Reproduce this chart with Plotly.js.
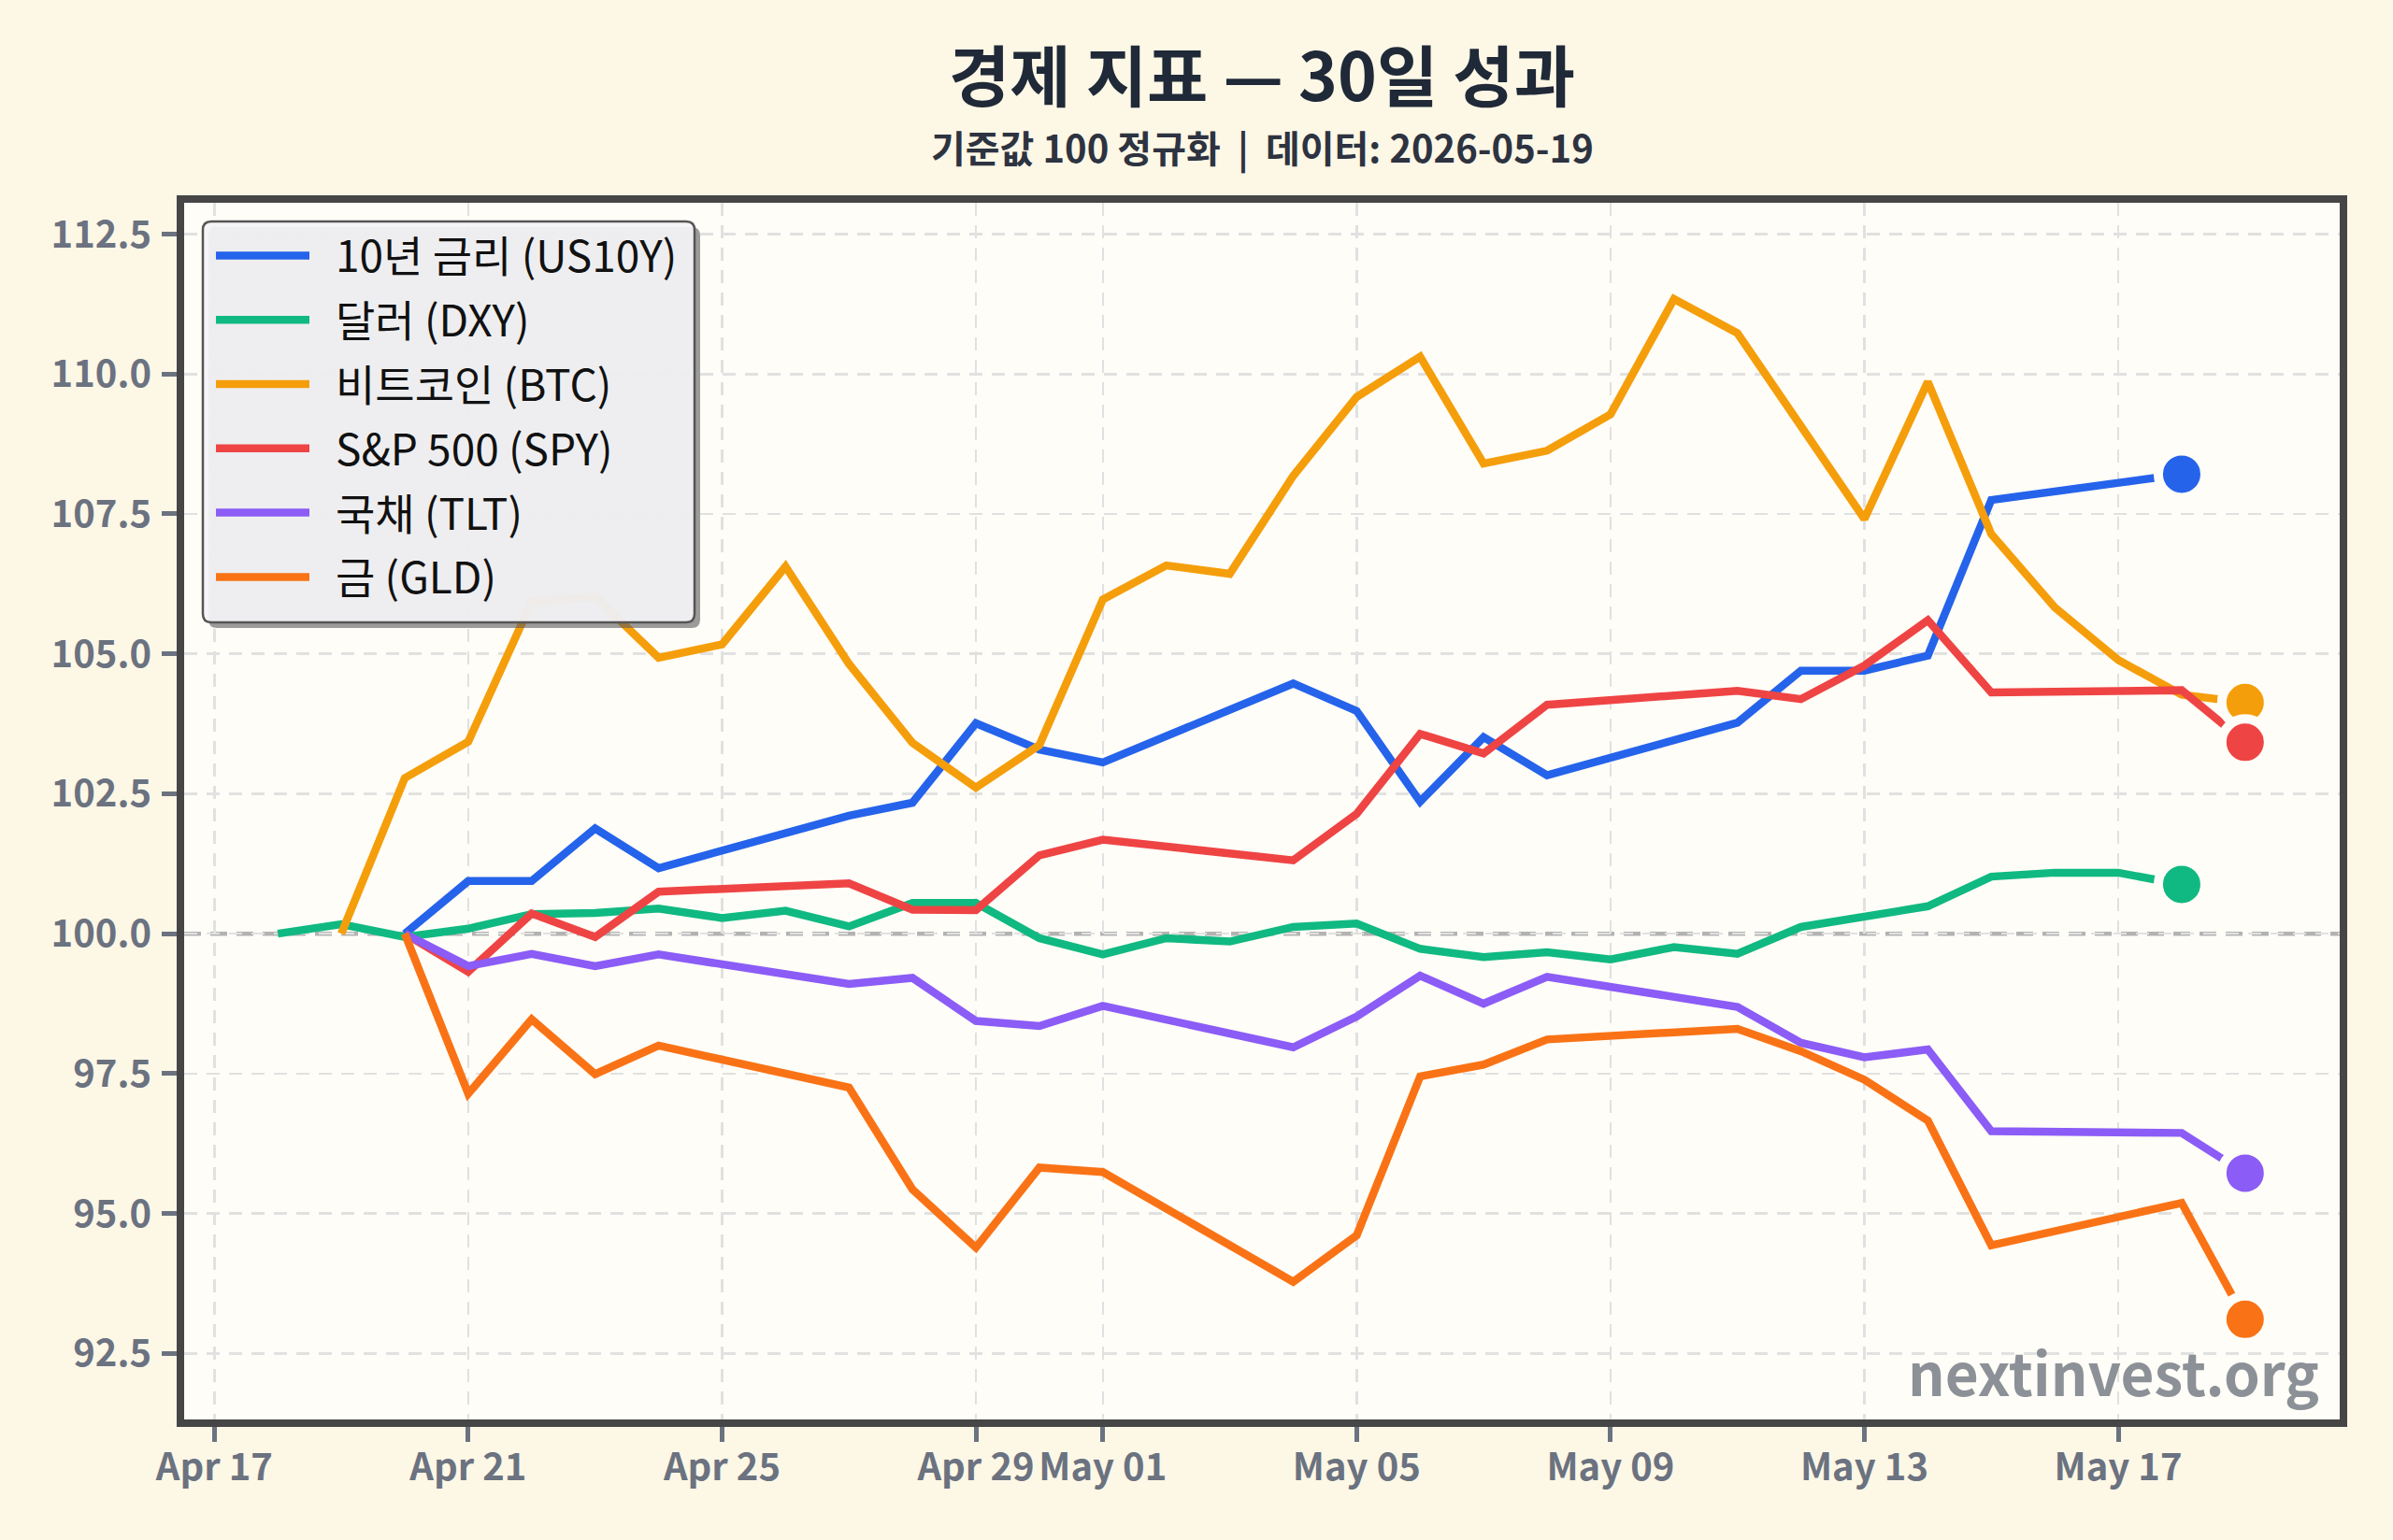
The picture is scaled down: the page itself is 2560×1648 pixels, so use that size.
<!DOCTYPE html>
<html>
<head>
<meta charset="utf-8">
<script src="https://cdn.plot.ly/plotly-3.0.1.min.js"></script>
<style>
  html, body { margin: 0; padding: 0; background: #fdf7e6; }
  #chart { width: 2560px; height: 1648px; }
</style>
</head>
<body>
<div id="chart"></div>
<script>
// ---------------- DATA ----------------
const seriesNames = ['10년 금리 (US10Y)', '달러 (DXY)', '비트코인 (BTC)', 'S&P 500 (SPY)', '국채 (TLT)', '금 (GLD)'];

const us10yDates = ['2026-04-20','2026-04-21','2026-04-22','2026-04-23','2026-04-24','2026-04-27','2026-04-28','2026-04-29','2026-04-30','2026-05-01','2026-05-04','2026-05-05','2026-05-06','2026-05-07','2026-05-08','2026-05-11','2026-05-12','2026-05-13','2026-05-14','2026-05-15','2026-05-18'];
const us10yValues = [100.00,100.94,100.94,101.88,101.17,102.11,102.34,103.76,103.29,103.06,104.47,103.98,102.36,103.51,102.83,103.77,104.70,104.70,104.97,107.75,108.21];

const dxyDates = ['2026-04-18','2026-04-19','2026-04-20','2026-04-21','2026-04-22','2026-04-23','2026-04-24','2026-04-25','2026-04-26','2026-04-27','2026-04-28','2026-04-29','2026-04-30','2026-05-01','2026-05-02','2026-05-03','2026-05-04','2026-05-05','2026-05-06','2026-05-07','2026-05-08','2026-05-09','2026-05-10','2026-05-11','2026-05-12','2026-05-13','2026-05-14','2026-05-15','2026-05-16','2026-05-17','2026-05-18'];
const dxyValues = [100.00,100.17,99.94,100.09,100.35,100.37,100.45,100.28,100.41,100.13,100.55,100.55,99.92,99.63,99.92,99.86,100.12,100.18,99.73,99.58,99.67,99.54,99.76,99.64,100.12,100.31,100.49,101.02,101.09,101.09,100.88];

const btcDates = ['2026-04-19','2026-04-20','2026-04-21','2026-04-22','2026-04-23','2026-04-24','2026-04-25','2026-04-26','2026-04-27','2026-04-28','2026-04-29','2026-04-30','2026-05-01','2026-05-02','2026-05-03','2026-05-04','2026-05-05','2026-05-06','2026-05-07','2026-05-08','2026-05-09','2026-05-10','2026-05-11','2026-05-12','2026-05-13','2026-05-14','2026-05-15','2026-05-16','2026-05-17','2026-05-18','2026-05-19'];
const btcValues = [100.00,102.78,103.43,105.93,106.02,104.93,105.17,106.56,104.82,103.41,102.61,103.37,105.97,106.58,106.43,108.18,109.59,110.31,108.40,108.63,109.28,111.34,110.73,109.07,107.41,109.86,107.14,105.83,104.89,104.27,104.13];

const stockDates = ['2026-04-20','2026-04-21','2026-04-22','2026-04-23','2026-04-24','2026-04-27','2026-04-28','2026-04-29','2026-04-30','2026-05-01','2026-05-04','2026-05-05','2026-05-06','2026-05-07','2026-05-08','2026-05-11','2026-05-12','2026-05-13','2026-05-14','2026-05-15','2026-05-18','2026-05-19'];
const spyValues = [100.00,99.32,100.36,99.94,100.75,100.90,100.43,100.42,101.40,101.68,101.31,102.14,103.57,103.22,104.09,104.34,104.19,104.79,105.60,104.31,104.35,103.42];
const tltValues = [100.00,99.42,99.64,99.42,99.63,99.10,99.21,98.44,98.35,98.71,97.97,98.52,99.25,98.75,99.23,98.69,98.05,97.79,97.93,96.47,96.44,95.72];
const gldValues = [100.00,97.14,98.47,97.49,98.00,97.25,95.43,94.39,95.82,95.74,93.78,94.61,97.45,97.66,98.11,98.30,97.90,97.39,96.66,94.43,95.19,93.11];

const xTickVals = ['2026-04-17','2026-04-21','2026-04-25','2026-04-29','2026-05-01','2026-05-05','2026-05-09','2026-05-13','2026-05-17'];

// ---------------- STYLE ----------------
const colors = ['#2563eb', '#10b981', '#f59e0b', '#ef4444', '#8b5cf6', '#f97316'];
const FONT = '"Noto Sans CJK KR", "Noto Sans", sans-serif';
const PAPER = '#fdf7e6';
const PLOTBG = '#fffdf7';
const TICKCOL = '#6b7280';

const seriesX = [us10yDates, dxyDates, btcDates, stockDates, stockDates, stockDates];
const seriesY = [us10yValues, dxyValues, btcValues, spyValues, tltValues, gldValues];

const traces = [];
for (let i = 0; i < seriesNames.length; i++) {
  traces.push({
    type: 'scatter', mode: 'lines', name: '\u2002' + seriesNames[i],
    x: seriesX[i], y: seriesY[i],
    line: { color: colors[i], width: 8.5 },
    legendgroup: 'g' + i,
    hoverinfo: 'skip'
  });
}
for (let i = 0; i < seriesNames.length; i++) {
  const xs = seriesX[i], ys = seriesY[i];
  traces.push({
    type: 'scatter', mode: 'markers', showlegend: false,
    x: [xs[xs.length - 1]], y: [ys[ys.length - 1]],
    marker: { size: 50, color: colors[i], line: { color: PLOTBG, width: 10 } },
    cliponaxis: false, hoverinfo: 'skip'
  });
}

const axisCommon = {
  ticks: 'outside', ticklen: 16, tickwidth: 5, tickcolor: TICKCOL,
  tickfont: { family: FONT, size: 40, color: TICKCOL, weight: 700 },
  showgrid: true, gridcolor: '#e1e1e1', gridwidth: 2.5, griddash: '14px,10px',
  showline: true, linecolor: '#464646', linewidth: 8, mirror: true,
  zeroline: false
};

// plot area in px: x 197..2503, y 217..1519
const L = 197, T = 217, W = 2306, H = 1302;
// legend box in px
const BOX = { x0: 217, y0: 237, x1: 743, y1: 666 };

const layout = {
  width: 2560, height: 1648,
  paper_bgcolor: PAPER, plot_bgcolor: PLOTBG,
  margin: { l: L, r: 2560 - L - W, t: T, b: 1648 - T - H, pad: 0 },
  font: { family: FONT, color: '#1f2937' },
  title: {
    text: '<b>경제 지표 — 30일 성과</b>',
    font: { family: FONT, size: 71, color: '#1f2937' },
    xref: 'paper', x: 0.5, xanchor: 'center',
    yref: 'container', y: 1 - 83 / 1648, yanchor: 'middle'
  },
  xaxis: Object.assign({}, axisCommon, {
    type: 'date',
    range: ['2026-04-16 12:34', '2026-05-20 11:46'],
    tickmode: 'array', tickvals: xTickVals, tickformat: '%b %d',
    ticklabelstandoff: -7
  }),
  yaxis: Object.assign({}, axisCommon, {
    range: [91.32, 113.06], tick0: 92.5, dtick: 2.5, tickformat: '.1f',
    ticklabelstandoff: 3
  }),
  showlegend: true,
  legend: {
    x: (226 - L) / W, y: 1 - (237 - T) / H, xanchor: 'left', yanchor: 'top',
    bgcolor: 'rgba(0,0,0,0)', borderwidth: 0,
    font: { family: FONT, size: 46, color: '#111111' },
    itemwidth: 100, tracegroupgap: 6, traceorder: 'grouped'
  },
  shapes: [
    { type: 'line', xref: 'paper', x0: 0, x1: 1, yref: 'y', y0: 100, y1: 100,
      line: { color: '#b3b3b3', width: 4.5, dash: '18px,10px' }, layer: 'below' }
  ],
  annotations: [
    { text: '<b>기준값 100 정규화  |  데이터: 2026-05-19</b>', showarrow: false,
      xref: 'paper', x: 0.5, xanchor: 'center',
      yref: 'paper', y: 1 + (T - 157) / H, yanchor: 'middle',
      font: { family: FONT, size: 40, color: '#2d3340' } },
    { text: '<b>nextinvest.org</b>', showarrow: false,
      xref: 'paper', x: 1, xanchor: 'right', xshift: -20,
      yref: 'paper', y: 0, yanchor: 'bottom', yshift: 5,
      font: { family: FONT, size: 62, color: 'rgba(120,126,134,0.85)' } }
  ]
};

function rounded(x0, y0, x1, y1, rad) {
  const px = v => (v - L) / W;
  const py = v => 1 - (v - T) / H;
  const rx = rad / W, ry = rad / H;
  const X0 = px(x0), X1 = px(x1), Y0 = py(y0), Y1 = py(y1);
  return 'M' + (X0 + rx) + ',' + Y0 + ' L' + (X1 - rx) + ',' + Y0 +
    ' Q' + X1 + ',' + Y0 + ' ' + X1 + ',' + (Y0 - ry) +
    ' L' + X1 + ',' + (Y1 + ry) + ' Q' + X1 + ',' + Y1 + ' ' + (X1 - rx) + ',' + Y1 +
    ' L' + (X0 + rx) + ',' + Y1 + ' Q' + X0 + ',' + Y1 + ' ' + X0 + ',' + (Y1 + ry) +
    ' L' + X0 + ',' + (Y0 - ry) + ' Q' + X0 + ',' + Y0 + ' ' + (X0 + rx) + ',' + Y0 + ' Z';
}
layout.shapes.push({ type: 'path', xref: 'paper', yref: 'paper', layer: 'above',
  path: rounded(BOX.x0 + 6, BOX.y0 + 6, BOX.x1 + 6, BOX.y1 + 6, 9),
  fillcolor: 'rgba(90,90,90,0.6)', line: { width: 0 } });
layout.shapes.push({ type: 'path', xref: 'paper', yref: 'paper', layer: 'above',
  path: rounded(BOX.x0, BOX.y0, BOX.x1, BOX.y1, 9),
  fillcolor: 'rgba(244,244,246,0.93)', line: { color: '#555555', width: 2.5 } });

Plotly.newPlot('chart', traces, layout, { displayModeBar: false, staticPlot: true });
</script>
</body>
</html>
